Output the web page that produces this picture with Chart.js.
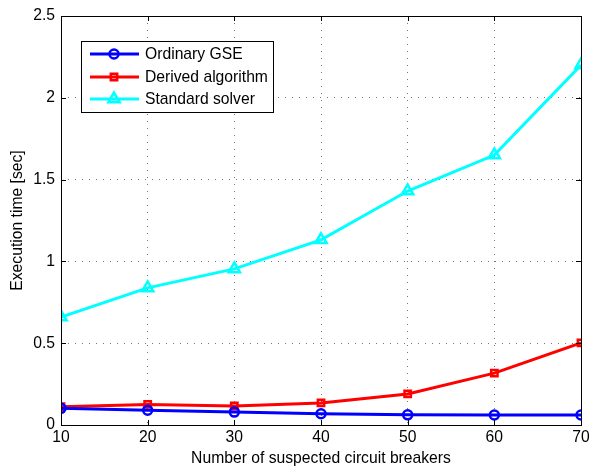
<!DOCTYPE html>
<html>
<head>
<meta charset="utf-8">
<script src="https://cdn.jsdelivr.net/npm/chart.js@4"></script>
<style>
  html, body { margin: 0; padding: 0; background: #fff; }
  #wrap { width: 590px; height: 468px; position: relative; }
</style>
</head>
<body>
<div id="wrap"><canvas id="myChart" width="590" height="468"></canvas></div>
<script>
const breakers = [10, 20, 30, 40, 50, 60, 70]
const ordinaryGSE = [0.102, 0.09, 0.079, 0.069, 0.062, 0.061, 0.061]
const derivedAlgorithm = [0.112, 0.126, 0.116, 0.135, 0.19, 0.317, 0.502]
const standardSolver = [0.66, 0.838, 0.954, 1.132, 1.43, 1.65, 2.2]
const yTicks = [0, 0.5, 1, 1.5, 2, 2.5]

const FONT = 'Liberation Sans, Arial, Helvetica, sans-serif'
const FSIZE = 15.7

// box around the plot and inward tick marks, matlab style
const boxPlugin = {
    id: 'box',
    afterDraw(chart) {
        const c = chart.ctx
        const a = chart.chartArea
        const xs = chart.scales.x
        const ys = chart.scales.y
        c.save()
        c.strokeStyle = '#000'
        c.lineWidth = 1
        c.beginPath()
        breakers.forEach(v => {
            const px = Math.round(xs.getPixelForValue(v)) + 0.5
            c.moveTo(px, a.bottom); c.lineTo(px, a.bottom - 5)
            c.moveTo(px, a.top); c.lineTo(px, a.top + 5)
        })
        yTicks.forEach(v => {
            const py = Math.round(ys.getPixelForValue(v)) + 0.5
            c.moveTo(a.left, py); c.lineTo(a.left + 5, py)
            c.moveTo(a.right, py); c.lineTo(a.right - 5, py)
        })
        c.stroke()
        c.strokeRect(Math.round(a.left) + 0.5, Math.round(a.top) + 0.5,
            Math.round(a.right - a.left), Math.round(a.bottom - a.top))
        c.restore()
    }
}

// legend box inside the plot, top left
const legendPlugin = {
    id: 'insideLegend',
    afterDraw(chart) {
        const c = chart.ctx
        const x0 = 81, y0 = 41, w = 192, h = 71
        c.save()
        c.fillStyle = '#fff'
        c.fillRect(x0, y0, w, h)
        c.strokeStyle = '#000'
        c.lineWidth = 1
        c.strokeRect(x0 + 0.5, y0 + 0.5, w, h)
        const rows = [54, 77, 99]
        chart.data.datasets.forEach((ds, i) => {
            const y = rows[i]
            c.strokeStyle = ds.borderColor
            c.lineWidth = ds.borderWidth
            c.beginPath()
            c.moveTo(90, y); c.lineTo(139, y)
            c.stroke()
            c.fillStyle = 'rgba(0,0,0,0)'
            c.lineWidth = ds.pointBorderWidth
            Chart.helpers.drawPoint(c, {
                pointStyle: ds.pointStyle,
                radius: ds.pointRadius,
                borderWidth: ds.pointBorderWidth,
                rotation: 0
            }, 114, y)
            c.fillStyle = '#000'
            c.font = FSIZE + 'px ' + FONT
            c.textBaseline = 'middle'
            c.textAlign = 'left'
            c.fillText(ds.label, 145, y + 1)
        })
        c.restore()
    }
}

function makeSet(label, data, color, style, radius) {
    return {
        label: label,
        data: data,
        borderColor: color,
        backgroundColor: 'rgba(0,0,0,0)',
        borderWidth: 3,
        pointStyle: style,
        pointRadius: radius,
        pointBorderWidth: 2.5,
        pointBorderColor: color,
        pointBackgroundColor: 'rgba(0,0,0,0)',
        tension: 0
    }
}

const ctx = document.getElementById('myChart')
new Chart(ctx, {
    type: 'line',
    data: {
        datasets: [
            makeSet('Ordinary GSE', breakers.map((x, i) => ({ x: x, y: ordinaryGSE[i] })), '#0000ff', 'circle', 4.5),
            makeSet('Derived algorithm', breakers.map((x, i) => ({ x: x, y: derivedAlgorithm[i] })), '#ff0000', 'rect', 4.5),
            makeSet('Standard solver', breakers.map((x, i) => ({ x: x, y: standardSolver[i] })), '#00ffff', 'triangle', 6.5)
        ]
    },
    options: {
        responsive: false,
        animation: false,
        devicePixelRatio: 1,
        layout: { padding: { top: 16, right: 9, left: 0, bottom: 0 } },
        plugins: {
            legend: { display: false },
            tooltip: { enabled: false }
        },
        scales: {
            x: {
                type: 'linear',
                min: 10,
                max: 70,
                afterBuildTicks(scale) { scale.ticks = breakers.map(v => ({ value: v })) },
                afterFit(scale) { scale.height = 43; scale.paddingLeft = 0; scale.paddingRight = 0 },
                grid: { color: '#777', lineWidth: 1, drawTicks: false },
                border: { display: false, dash: [1, 6] },
                ticks: { color: '#000', font: { family: FONT, size: FSIZE }, padding: 3, maxRotation: 0 },
                title: { display: true, text: 'Number of suspected circuit breakers', color: '#000', font: { family: FONT, size: FSIZE }, padding: { top: 0, bottom: 0 } }
            },
            y: {
                min: 0,
                max: 2.5,
                afterBuildTicks(scale) { scale.ticks = yTicks.map(v => ({ value: v })) },
                afterFit(scale) { scale.width = 61 },
                grid: { color: '#777', lineWidth: 1, drawTicks: false },
                border: { display: false, dash: [1, 6] },
                ticks: { color: '#000', font: { family: FONT, size: FSIZE }, padding: 6, callback: v => String(v) },
                title: { display: true, text: 'Execution time [sec]', color: '#000', font: { family: FONT, size: FSIZE }, padding: { top: 8, bottom: 4 } }
            }
        }
    },
    plugins: [boxPlugin, legendPlugin]
})
</script>
</body>
</html>
